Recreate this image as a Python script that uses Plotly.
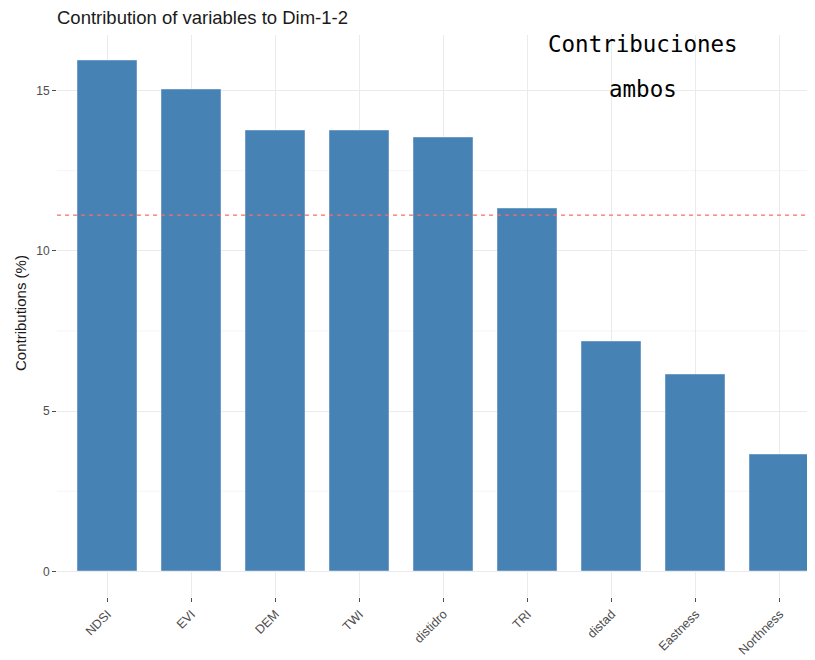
import plotly.graph_objects as go

categories = ["NDSI", "EVI", "DEM", "TWI", "distidro", "TRI", "distad", "Eastness", "Northness"]
contributions = [15.93, 15.03, 13.75, 13.75, 13.53, 11.29, 7.14, 6.11, 3.62]
expected_line = 11.11
y_ticks = [0, 5, 10, 15]

OFF = 8  # page body margin
W, H = 815 - OFF, 660 - OFF
L, R, T = 57 - OFF, 0, 35 - OFF
B = H - (597 - OFF)
pw = W - L - R
ph = H - T - B


def px_x(p):
    return (p - OFF - L) / pw


def px_y(p):
    return 1 - (p - OFF - T) / ph


fig = go.Figure()
fig.add_trace(go.Bar(
    x=list(range(len(categories))), y=contributions, width=0.7,
    marker=dict(color="#4682B4", line=dict(color="#6E9BC8", width=1)),
    hoverinfo="skip",
))
fig.add_shape(type="line", xref="paper", yref="y", x0=0, x1=1,
              y0=expected_line, y1=expected_line,
              line=dict(color="#FF6B6B", width=1.4, dash="4px,4px"))

grid = "#EBEBEB"
for v in [2.5, 7.5, 12.5]:
    fig.add_shape(type="line", xref="paper", yref="y", x0=0, x1=1, y0=v, y1=v,
                  line=dict(color="#F2F2F2", width=0.8), layer="below")

fig.update_layout(
    width=W, height=H,
    margin=dict(l=L, r=R, t=T, b=B),
    paper_bgcolor="white", plot_bgcolor="white",
    showlegend=False,
    bargap=0,
    font=dict(family="Liberation Sans, Arial, sans-serif", color="#4D4D4D"),
    xaxis=dict(
        range=[-0.6, 8.42], tickmode="array",
        tickvals=list(range(len(categories))), ticktext=categories,
        tickangle=-45, showgrid=True, gridcolor=grid, gridwidth=1,
        ticks="outside", ticklen=4, tickcolor="#4D4D4D", tickwidth=1,
        tickfont=dict(size=12.5, color="#4D4D4D"), zeroline=False, showline=False,
    ),
    yaxis=dict(
        range=[-0.8, 16.73], tickmode="array", tickvals=y_ticks,
        showgrid=True, gridcolor=grid, gridwidth=1,
        ticks="outside", ticklen=4, tickcolor="#4D4D4D", tickwidth=1,
        tickfont=dict(size=12, color="#4D4D4D"), zeroline=False, showline=False,
    ),
    title=dict(text="Contribution of variables to Dim-1-2",
               x=L / W, xanchor="left", xref="container",
               y=1 - (18 - OFF) / H, yanchor="middle", yref="container",
               font=dict(size=18.5, color="#1A1A1A")),
)

fig.add_annotation(text="Contributions (%)", xref="paper", yref="paper",
                   x=px_x(20), y=px_y(313), textangle=-90,
                   showarrow=False, xanchor="center", yanchor="middle",
                   font=dict(size=15, color="#1A1A1A"))
fig.add_annotation(text="Contribuciones", xref="paper", yref="paper",
                   x=px_x(643), y=px_y(44), showarrow=False,
                   xanchor="center", yanchor="middle",
                   font=dict(family="DejaVu Sans Mono, monospace", size=22.5, color="black"))
fig.add_annotation(text="ambos", xref="paper", yref="paper",
                   x=px_x(643), y=px_y(89), showarrow=False,
                   xanchor="center", yanchor="middle",
                   font=dict(family="DejaVu Sans Mono, monospace", size=22.5, color="black"))

fig.write_html("out.html")
